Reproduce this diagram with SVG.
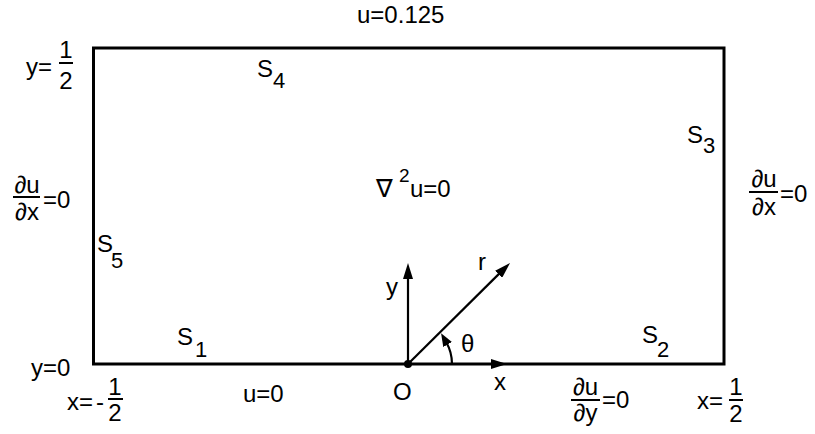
<svg xmlns="http://www.w3.org/2000/svg" width="815" height="434" viewBox="0 0 815 434">
<style>
text{font-family:"Liberation Sans",Arial,"DejaVu Sans",sans-serif;font-size:24px;fill:#000}
.sub{font-size:22px}
.mid{text-anchor:middle}
.fr{stroke:#000;stroke-width:2;fill:none}
.ax{stroke:#000;stroke-width:2.2;fill:none}
</style>
<defs>
<marker id="ah" viewBox="0 0 16 10" refX="4" refY="5" markerWidth="16" markerHeight="10" markerUnits="userSpaceOnUse" orient="auto"><path d="M0,0 L16,5 L0,10 z" fill="#000"/></marker>
<marker id="ahs" viewBox="0 0 13 10" refX="3" refY="5" markerWidth="13" markerHeight="10" markerUnits="userSpaceOnUse" orient="auto"><path d="M0,0 L13,5 L0,10 z" fill="#000"/></marker>
</defs>
<rect fill="#fff" width="815" height="434"/>
<g id="domain">
<rect x="93.5" y="48" width="630.5" height="316" fill="none" stroke="#000" stroke-width="3"/>
</g>
<g id="connectors">
<line class="ax" x1="408" y1="364" x2="408" y2="275" marker-end="url(#ah)"/>
<line class="ax" x1="408" y1="364" x2="495" y2="364" marker-end="url(#ah)"/>
<line class="ax" x1="408" y1="364" x2="501.5" y2="271.4" marker-end="url(#ah)"/>
<path class="ax" d="M452,364 A44,44 0 0 0 446.1,342" marker-end="url(#ahs)"/>
<circle cx="408" cy="364" r="4" fill="#000"/>
</g>
<g id="labels">
<text x="357" y="23">u=0.125</text>
<g id="y-half"><text x="26" y="75">y=</text><text class="mid" x="66" y="58">1</text><line class="fr" x1="59" y1="63" x2="73" y2="63"/><text class="mid" x="66" y="89">2</text></g>
<g id="S4"><text x="257" y="77">S</text><text class="sub" x="273" y="88">4</text></g>
<g id="S3"><text x="687" y="143">S</text><text class="sub" x="703" y="153">3</text></g>
<g id="laplace"><text x="376" y="197" style="font-family:'DejaVu Sans',sans-serif;font-size:25px">∇</text><text x="399" y="182" style="font-size:19px">2</text><text x="410" y="197">u=0</text></g>
<g id="left-bc"><text class="mid" x="27" y="193">∂u</text><line class="fr" x1="13" y1="197" x2="40" y2="197"/><text class="mid" x="27" y="220">∂x</text><text x="43" y="208">=0</text></g>
<g id="right-bc"><text class="mid" x="764" y="187">∂u</text><line class="fr" x1="749" y1="192" x2="778" y2="192"/><text class="mid" x="764" y="215">∂x</text><text x="780" y="202">=0</text></g>
<g id="S5"><text x="97" y="252">S</text><text class="sub" x="111" y="268">5</text></g>
<text x="386" y="295">y</text>
<text x="478" y="270">r</text>
<text x="461" y="352">θ</text>
<g id="S1"><text x="177" y="345">S</text><text class="sub" x="195" y="357">1</text></g>
<g id="S2"><text x="642" y="343">S</text><text class="sub" x="657" y="357">2</text></g>
<text x="31" y="376">y=0</text>
<g id="x-mhalf"><text x="67" y="410">x=</text><text x="96" y="410">-</text><text class="mid" x="115" y="395">1</text><line class="fr" x1="108" y1="399" x2="123" y2="399"/><text class="mid" x="115" y="421">2</text></g>
<text x="243" y="402">u=0</text>
<text x="393" y="400">O</text>
<text x="494" y="390">x</text>
<g id="bottom-bc"><text class="mid" x="585.5" y="395">∂u</text><line class="fr" x1="571" y1="400" x2="600" y2="400"/><text class="mid" x="585.5" y="421">∂y</text><text x="602" y="408">=0</text></g>
<g id="x-half"><text x="697" y="409">x=</text><text class="mid" x="736" y="395">1</text><line class="fr" x1="729" y1="400" x2="743" y2="400"/><text class="mid" x="736" y="422">2</text></g>
</g>
</svg>
